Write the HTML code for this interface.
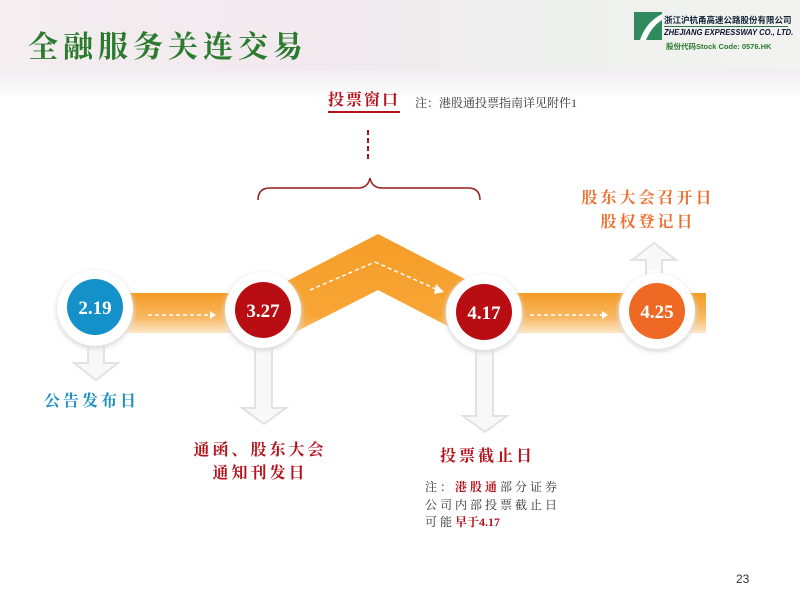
<!DOCTYPE html>
<html><head><meta charset="utf-8"><style>
body{margin:0;width:800px;height:600px;overflow:hidden;position:relative;font-family:"Liberation Serif","Noto Serif CJK SC",serif;background:#fff}
.a{position:absolute;white-space:nowrap}
</style></head><body>
<div class="a" style="left:0;top:0;width:800px;height:90px;background:linear-gradient(90deg,#f4eef0,#f1e9ee 40%,#eef0ee 70%,#f3f3f1);"></div>
<div class="a" style="left:0;top:70px;width:800px;height:30px;background:linear-gradient(#f0eef0,#fff)"></div>
<div class="a" style="left:28px;top:22px;font-size:30px;color:#2b7a2e;letter-spacing:5px;font-family:'Noto Serif CJK SC',serif;font-weight:bold">全融服务关连交易</div>
<svg class="a" style="left:634px;top:12px" width="28" height="28"><rect width="28" height="28" fill="#2f8a5e"/><path d="M6 28 Q12 10 28 2 L28 8 Q18 14 12 28Z" fill="#fff"/></svg>
<div class="a" style="left:664px;top:14px;font-size:8.5px;font-weight:bold;color:#123;font-family:'Noto Sans CJK SC',sans-serif">浙江沪杭甬高速公路股份有限公司</div>
<div class="a" style="left:664px;top:26px;width:124px;border-top:1px solid #2a7a4a"></div>
<div class="a" style="left:664px;top:28px;font-size:8px;font-weight:bold;font-style:italic;color:#113;font-family:'Liberation Sans',sans-serif;transform:scaleX(0.95);transform-origin:left">ZHEJIANG EXPRESSWAY CO., LTD.</div>
<div class="a" style="left:666px;top:41px;font-size:7.5px;font-weight:bold;color:#2a7a2e;font-family:'Liberation Sans','Noto Sans CJK SC',sans-serif">股份代码Stock Code: 0576.HK</div>

<div class="a" style="left:328px;top:91px;font-size:16px;font-weight:bold;color:#b5121b;letter-spacing:2px;border-bottom:2px solid #b5121b;line-height:20px">投票窗口</div>
<div class="a" style="left:415px;top:94px;font-size:12px;color:#333">注：港股通投票指南详见附件1</div>

<svg class="a" style="left:0;top:0" width="800" height="600">
<defs><linearGradient id="g" x1="0" y1="0" x2="0" y2="1"><stop offset="0" stop-color="#f49a24"/><stop offset="0.6" stop-color="#f8b760"/><stop offset="1" stop-color="#fde6c8"/></linearGradient>
<linearGradient id="g2" x1="0" y1="0" x2="0" y2="1"><stop offset="0" stop-color="#f59d28"/><stop offset="0.7" stop-color="#f7a535"/><stop offset="1" stop-color="#fce0bd"/></linearGradient>
<filter id="s"><feGaussianBlur stdDeviation="2"/></filter></defs>
<line x1="368" y1="130" x2="368" y2="160" stroke="#b5121b" stroke-width="2" stroke-dasharray="5,3"/>
<path d="M258 200 Q258 188 270 188 L358 188 Q368 188 370 178 Q372 188 382 188 L468 188 Q480 188 480 200" fill="none" stroke="#9b1a1a" stroke-width="1.5"/>
<rect x="100" y="293" width="165" height="40" fill="url(#g)"/>
<rect x="484" y="293" width="222" height="40" fill="url(#g)"/>
<path d="M260 295 L378 234 L490 292 L490 348 L378 290 L260 350Z" fill="url(#g2)"/>
<g stroke="#fff" stroke-width="1.5" stroke-dasharray="4,3" fill="none">
<line x1="148" y1="315" x2="210" y2="315"/><line x1="310" y1="290" x2="375" y2="262"/><line x1="375" y1="262" x2="438" y2="290"/><line x1="530" y1="315" x2="602" y2="315"/></g>
<g fill="#fff"><path d="M210 311 L216 315 L210 319Z"/><path d="M602 311 L608 315 L602 319Z"/><path d="M436 284 L444 292 L434 294Z"/></g>
<g fill="#f8f8f8" stroke="#e2e2e2" stroke-width="2">
<path d="M88 340 h16 v23 h14 l-22 17 l-22 -17 h14z"/>
<path d="M255 340 h17 v68 h14 l-22 16 l-22 -16 h13z"/>
<path d="M476 340 h17 v76 h14 l-22 16 l-22 -16 h13z"/>
<path d="M646 276 v-16 h-14 l22 -17 l22 17 h-14 v16z"/>
</g>
<g fill="#fff"><rect x="90" y="336" width="12" height="8"/><rect x="257" y="336" width="13" height="8"/><rect x="478" y="336" width="13" height="8"/><rect x="648" y="270" width="12" height="8"/></g>
<g filter="url(#s)" fill="#ddd"><circle cx="95" cy="310" r="39"/><circle cx="263" cy="312" r="39"/><circle cx="484" cy="314" r="39"/><circle cx="657" cy="313" r="39"/></g>
<g fill="#fff"><circle cx="95" cy="308" r="38"/><circle cx="263" cy="310" r="38"/><circle cx="484" cy="312" r="38"/><circle cx="657" cy="311" r="38"/></g>
<circle cx="95" cy="307" r="28" fill="#1391c8"/><circle cx="263" cy="310" r="28" fill="#b80d12"/><circle cx="484" cy="312" r="28" fill="#b80d12"/><circle cx="657" cy="311" r="28" fill="#ee6a24"/>
<g fill="#fff" font-family="Liberation Serif" font-weight="bold" font-size="19" text-anchor="middle">
<text x="95" y="314">2.19</text><text x="263" y="317">3.27</text><text x="484" y="319">4.17</text><text x="657" y="318">4.25</text></g>
</svg>

<div class="a" style="left:44px;top:388px;font-size:16px;font-weight:bold;color:#1a8fc0;letter-spacing:3px;font-family:'Noto Serif CJK SC',serif">公告发布日</div>
<div class="a" style="left:185px;top:437px;width:150px;text-align:center;font-size:16px;font-weight:bold;color:#b5121b;letter-spacing:3px;line-height:23px;font-family:'Noto Serif CJK SC',serif">通函、股东大会<br>通知刊发日</div>
<div class="a" style="left:440px;top:443px;font-size:16px;font-weight:bold;color:#b5121b;letter-spacing:3px;font-family:'Noto Serif CJK SC',serif">投票截止日</div>
<div class="a" style="left:425px;top:479px;font-size:12px;color:#333;letter-spacing:3px;line-height:17.5px">注：<b style="color:#b5121b">港股通</b>部分证券<br>公司内部投票截止日<br>可能<b style="color:#b5121b;letter-spacing:0">早于4.17</b></div>
<div class="a" style="left:570px;top:185px;width:156px;text-align:center;font-size:16px;font-weight:bold;color:#ee7030;letter-spacing:3px;line-height:24px;font-family:'Noto Serif CJK SC',serif">股东大会召开日<br>股权登记日</div>
<div class="a" style="left:736px;top:572px;font-size:12px;color:#333;font-family:'Liberation Sans',sans-serif">23</div>
</body></html>
